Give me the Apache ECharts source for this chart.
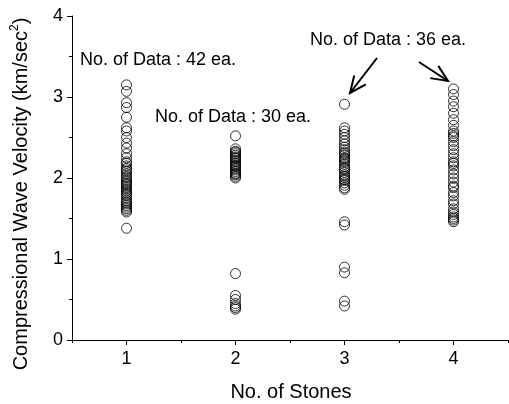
<!DOCTYPE html>
<html>
<head>
<meta charset="utf-8">
<script src="https://cdn.jsdelivr.net/npm/echarts@6/dist/echarts.min.js"></script>
<style>
  html, body { margin: 0; padding: 0; background: #fff; }
  #chart { width: 509px; height: 404px; }
</style>
</head>
<body>
<div id="chart"></div>
<script>
// Stone numbers on the x axis
const stones = [1, 2, 3, 4];

// Compressional wave velocity per stone (km/sec^2)
const stone1 = [3.15, 3.07, 2.93, 2.87, 2.75, 2.62, 2.58, 2.50, 2.43, 2.37,
                2.30, 2.25, 2.20, 2.18, 2.15, 2.12, 2.08, 2.05, 2.02, 2.00,
                1.97, 1.95, 1.93, 1.90, 1.88, 1.86, 1.84, 1.82, 1.80, 1.78,
                1.75, 1.72, 1.70, 1.68, 1.66, 1.64, 1.62, 1.60, 1.58, 2.10,
                1.92, 1.38];
const stone2 = [2.52, 2.36, 2.33, 2.30, 2.28, 2.26, 2.24, 2.22, 2.20, 2.18,
                2.16, 2.14, 2.12, 2.10, 2.08, 2.06, 2.04, 2.02, 2.00, 2.32,
                2.25, 2.15, 2.05,
                0.82, 0.55, 0.50, 0.45, 0.40, 0.38, 0.42];
const stone3 = [2.91, 2.62, 2.58, 2.54, 2.50, 2.46, 2.42, 2.38, 2.35, 2.32,
                2.28, 2.25, 2.22, 2.20, 2.17, 2.14, 2.10, 2.07, 2.04, 2.00,
                1.97, 1.94, 1.91, 1.88, 1.86, 2.30, 2.12, 2.02, 2.24, 1.98,
                1.46, 1.42, 0.90, 0.83, 0.48, 0.42];
const stone4 = [3.10, 3.03, 2.95, 2.88, 2.80, 2.72, 2.65, 2.58, 2.55, 2.50,
                2.45, 2.40, 2.35, 2.30, 2.25, 2.20, 2.15, 2.10, 2.05, 2.00,
                1.95, 1.90, 1.88, 1.82, 1.78, 1.72, 1.68, 1.62, 1.58, 1.55,
                1.52, 1.50, 1.48, 1.46, 2.52, 2.18];

// Axis tick labels
const xTickLabels = [1, 2, 3, 4];
const yTickLabels = [0, 1, 2, 3, 4];

const velocities = [stone1, stone2, stone3, stone4];
const points = [];
velocities.forEach((vals, i) => {
  vals.forEach(v => points.push([stones[i], v]));
});

const FONT = '"Liberation Sans", Arial, sans-serif';
const chart = echarts.init(document.getElementById('chart'), null, { renderer: 'canvas' });

// Open-V arrow: shaft plus two wings at the tip
function arrow(x1, y1, x2, y2) {
  const ang = Math.atan2(y2 - y1, x2 - x1);
  const L = 18, spread = 0.42;
  const w1 = [x2 - L * Math.cos(ang - spread), y2 - L * Math.sin(ang - spread)];
  const w2 = [x2 - L * Math.cos(ang + spread), y2 - L * Math.sin(ang + spread)];
  const st = { stroke: '#000', lineWidth: 2, fill: null };
  return [
    { type: 'polyline', shape: { points: [[x1, y1], [x2, y2]] }, style: st },
    { type: 'polyline', shape: { points: [w1, [x2, y2], w2] }, style: st }
  ];
}

const textStyle = (t) => ({ text: t, font: '18px ' + FONT, fill: '#000' });

chart.setOption({
  animation: false,
  backgroundColor: '#fff',
  grid: { left: 72, right: 1, top: 16, bottom: 64, containLabel: false },
  xAxis: [{
    type: 'value', min: 0.5, max: 4.5, interval: 0.5,
    axisLine: { show: true, lineStyle: { color: '#000', width: 1 } },
    axisTick: { show: true, length: 3, lineStyle: { color: '#000' } },
    axisLabel: { show: false },
    splitLine: { show: false }
  }, {
    type: 'value', min: 0.5, max: 4.5, interval: 0.5, position: 'bottom',
    axisLine: { show: false },
    axisTick: { show: true, length: 5, customValues: xTickLabels, lineStyle: { color: '#000' } },
    axisLabel: { show: true, customValues: xTickLabels, margin: 10, color: '#000', fontSize: 18, fontFamily: FONT },
    splitLine: { show: false }
  }],
  yAxis: [{
    type: 'value', min: 0, max: 4, interval: 1,
    axisLine: { show: true, lineStyle: { color: '#000', width: 1 } },
    axisTick: { show: true, length: 5, lineStyle: { color: '#000' } },
    minorTick: { show: true, splitNumber: 2, length: 3, lineStyle: { color: '#000' } },
    axisLabel: {
      show: true, margin: 9, color: '#000', fontSize: 18, fontFamily: FONT,
      formatter: (v) => yTickLabels.includes(v) ? String(v) : ''
    },
    splitLine: { show: false }
  }],
  series: [{
    type: 'scatter',
    xAxisIndex: 0,
    data: points,
    symbol: 'circle',
    symbolSize: 10,
    itemStyle: { color: 'rgba(0,0,0,0)', borderColor: '#000', borderWidth: 1 },
    emphasis: { disabled: true }
  }],
  graphic: [
    {
      type: 'text', x: 20, y: 194, rotation: Math.PI / 2,
      style: {
        text: '{m|Compressional Wave Velocity (km/sec}{s|2}{m|)}',
        align: 'center', verticalAlign: 'middle',
        rich: {
          m: { fontSize: 20, fontFamily: FONT, color: '#000', lineHeight: 22, verticalAlign: 'bottom' },
          s: { fontSize: 12, fontFamily: FONT, color: '#000', lineHeight: 22, verticalAlign: 'top' }
        }
      }
    },
    {
      type: 'text', x: 291, y: 392,
      style: { text: 'No. of Stones', font: '20px ' + FONT, fill: '#000', align: 'center', verticalAlign: 'middle' }
    },
    { type: 'text', x: 80, y: 60, style: Object.assign(textStyle('No. of Data : 42 ea.'), { verticalAlign: 'middle' }) },
    { type: 'text', x: 155, y: 117, style: Object.assign(textStyle('No. of Data : 30 ea.'), { verticalAlign: 'middle' }) },
    { type: 'text', x: 310, y: 40, style: Object.assign(textStyle('No. of Data : 36 ea.'), { verticalAlign: 'middle' }) },
    ...arrow(377, 58, 350, 93),
    ...arrow(419, 62, 448, 81)
  ]
});
</script>
</body>
</html>
